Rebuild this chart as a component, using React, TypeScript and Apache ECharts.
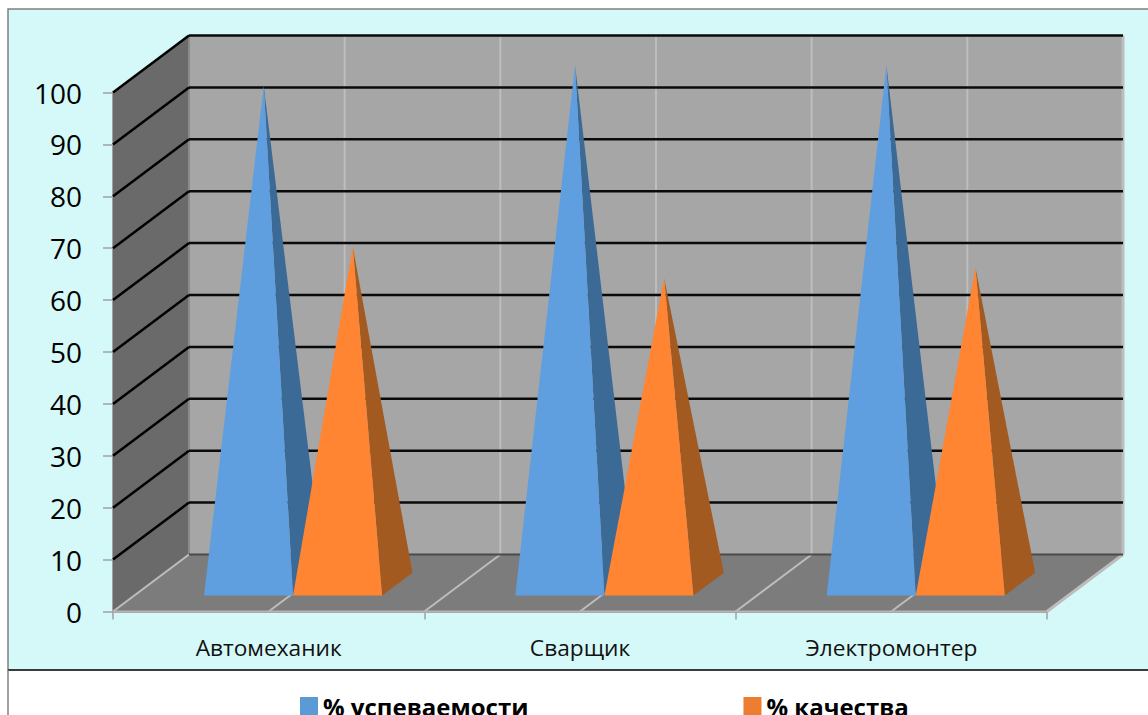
import React, { useEffect, useRef } from "react";
import * as echarts from "echarts";

const categories = ["Автомеханик", "Сварщик", "Электромонтер"];
const progress = [96, 100, 100];
const quality = [65, 59, 61];
const seriesNames = ["% успеваемости", "% качества"];
const legendColors = ["#5B9BD5", "#ED7D31"];
const faceColors = ["#5F9FDF", "#FF8533"];
const sideColors = ["#3C6A96", "#A35A20"];
const yTicks = [0, 10, 20, 30, 40, 50, 60, 70, 80, 90, 100];

const DX = 76;
const DY = -57;
const BAR_START = 0.224;
const BAR_WIDTH = 0.286;
const DEPTH_FRONT = 0.28;
const DEPTH_MID = 0.48;
const DEPTH_BACK = 0.68;

const off = (p: number[], d: number) => [p[0] + DX * d, p[1] + DY * d];

const renderWalls = (_: any, api: any) => {
  const band = api.size([1, 0])[0];
  const x0 = api.coord([0, 0])[0] - band / 2;
  const x1 = api.coord([categories.length - 1, 0])[0] + band / 2;
  const yAt = (v: number) => api.coord([0, v])[1];
  const y0 = yAt(0);
  const y100 = yAt(100);
  const children: any[] = [];
  const poly = (points: number[][], fill: string) =>
    children.push({ type: "polygon", shape: { points }, style: { fill, stroke: "none" } });
  const line = (a: number[], b: number[], stroke: string, lineWidth: number) =>
    children.push({
      type: "line",
      shape: { x1: a[0], y1: a[1], x2: b[0], y2: b[1] },
      style: { stroke, lineWidth },
    });
  // back wall, side wall, floor
  poly([off([x0, y100], 1), off([x1, y100], 1), off([x1, y0], 1), off([x0, y0], 1)], "#A6A6A6");
  poly([[x0, y100], off([x0, y100], 1), off([x0, y0], 1), [x0, y0]], "#6A6A6A");
  poly([[x0, y0], [x1, y0], off([x1, y0], 1), off([x0, y0], 1)], "#7C7C7C");
  // half-band dividers on wall and floor
  const halves = categories.length * 2;
  for (let i = 0; i <= halves; i++) {
    const x = x0 + (i * band) / 2;
    if (i > 0) line(off([x, y100], 1), off([x, y0], 1), "#BDBDBD", i === halves ? 3 : 2);
    line([x, y0], off([x, y0], 1), "#BDBDBD", i === halves ? 3 : 2);
  }
  line(off([x0, y0], 1), off([x0, y100], 1), "#8A8A8A", 2);
  line([x0, y0], [x1, y0], "#B4B4B4", 2);
  line(off([x0, y0], 1), off([x1, y0], 1), "#4A4A4A", 2);
  yTicks.slice(1).forEach((v) => {
    const y = yAt(v);
    line([x0, y], off([x0, y], 1), "#000000", 2.5);
    line(off([x0, y], 1), off([x1, y], 1), "#0A0A0A", 2.5);
  });
  return { type: "group", children };
};

const makePyramid = (s: number) => (_: any, api: any) => {
  const i = api.value(0);
  const v = api.value(1);
  const band = api.size([1, 0])[0];
  const c = api.coord([i, 0]);
  const left = c[0] - band / 2 + band * (BAR_START + s * BAR_WIDTH);
  const right = left + band * BAR_WIDTH;
  const fl = off([left, c[1]], DEPTH_FRONT);
  const fr = off([right, c[1]], DEPTH_FRONT);
  const br = off([right, c[1]], DEPTH_BACK);
  const apex = off([(left + right) / 2, api.coord([i, v])[1]], DEPTH_MID);
  return {
    type: "group",
    children: [
      { type: "polygon", shape: { points: [fr, br, apex] }, style: { fill: sideColors[s], stroke: "none" } },
      { type: "polygon", shape: { points: [fl, fr, apex] }, style: { fill: faceColors[s], stroke: "none" } },
    ],
  };
};

export default function App() {
  const ref = useRef<HTMLDivElement>(null);
  useEffect(() => {
    const chart = echarts.init(ref.current!, undefined, { renderer: "svg" });
    chart.setOption({
      animation: false,
      backgroundColor: "#FFFFFF",
      graphic: [
        {
          type: "rect",
          z: -10,
          shape: { x: 8, y: 9, width: 1142, height: 661 },
          style: { fill: "#D5F9F8", stroke: "#808080", lineWidth: 1.5 },
        },
        { type: "line", z: -9, shape: { x1: 8, y1: 670, x2: 1148, y2: 670 }, style: { stroke: "#1A1A1A", lineWidth: 1.5 } },
        { type: "line", z: -9, shape: { x1: 8, y1: 670, x2: 8, y2: 715 }, style: { stroke: "#808080", lineWidth: 1.5 } },
      ],
      grid: { left: 113, top: 92.5, width: 934, height: 519, containLabel: false },
      xAxis: {
        type: "category",
        data: categories,
        axisLine: { lineStyle: { color: "#A0A0A0", width: 2 } },
        axisTick: { show: true, length: 8, lineStyle: { color: "#A0A0A0", width: 1.5 } },
        axisLabel: { color: "#111111", fontFamily: "Open Sans", fontSize: 22.7, margin: 24 },
      },
      yAxis: {
        type: "value",
        min: 0,
        max: 100,
        interval: 10,
        splitLine: { show: false },
        axisLine: { show: true, lineStyle: { color: "#A0A0A0", width: 2 } },
        axisTick: { show: true, length: 10, lineStyle: { color: "#A0A0A0", width: 1.5 } },
        axisLabel: { color: "#000000", fontFamily: "Open Sans", fontSize: 28, margin: 31 },
      },
      legend: {
        data: seriesNames,
        left: 295,
        top: 689,
        padding: [5, 5, 0, 5],
        itemWidth: 18,
        itemHeight: 18,
        itemGap: 215,
        icon: "rect",
        textStyle: { color: "#000000", fontFamily: "Open Sans", fontSize: 24, fontWeight: "bold", lineHeight: 18 },
      },
      series: [
        { type: "custom", name: "стены", renderItem: renderWalls, data: [[0, 0]], clip: false, silent: true, z: 1 },
        {
          type: "custom",
          name: seriesNames[0],
          renderItem: makePyramid(0),
          data: progress.map((v, i) => [i, v]),
          encode: { x: 0, y: 1 },
          itemStyle: { color: legendColors[0] },
          clip: false,
          z: 2,
        },
        {
          type: "custom",
          name: seriesNames[1],
          renderItem: makePyramid(1),
          data: quality.map((v, i) => [i, v]),
          encode: { x: 0, y: 1 },
          itemStyle: { color: legendColors[1] },
          clip: false,
          z: 3,
        },
      ],
    });
    return () => chart.dispose();
  }, []);
  return <div ref={ref} style={{ position: "absolute", left: 0, top: 0, width: 1148, height: 715 }} />;
}
